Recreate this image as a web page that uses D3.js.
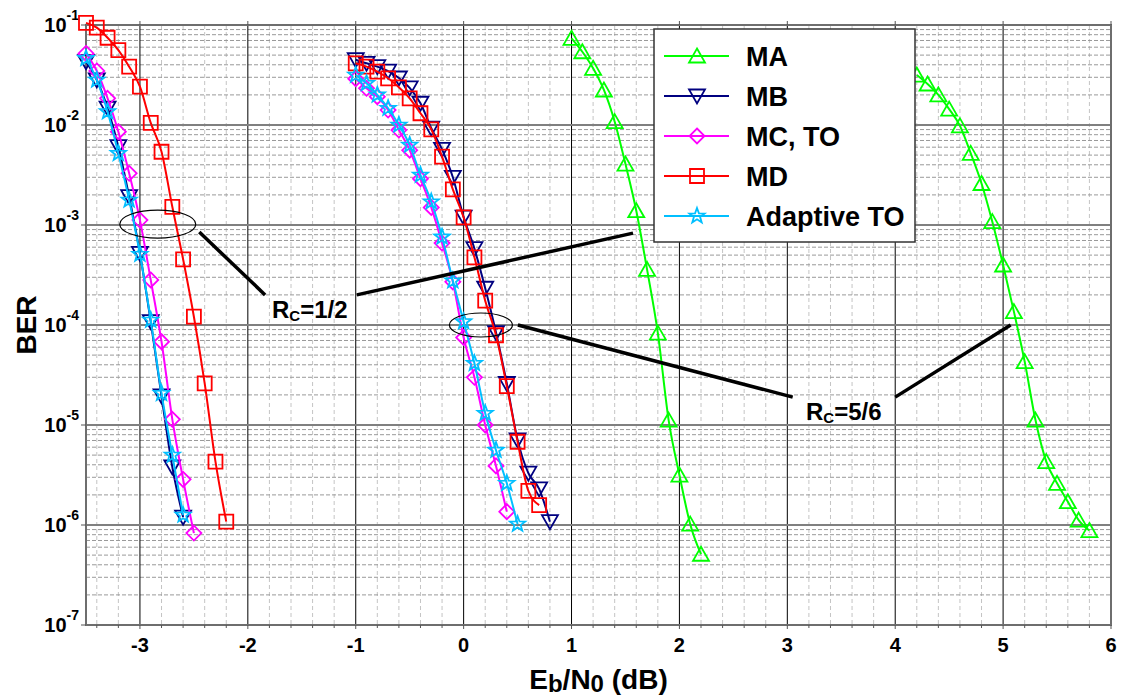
<!DOCTYPE html>
<html><head><meta charset="utf-8">
<script src="https://cdn.jsdelivr.net/npm/d3@7"></script>
<style>
body{margin:0;background:#fff}
text{font-family:Arial,"Liberation Sans",sans-serif;font-weight:bold;fill:#000}
</style>
</head><body>
<svg id="c" width="1126" height="696"></svg>
<script>
// ---------- data ----------
const seriesNames = ["MA", "MB", "MC, TO", "MD", "Adaptive TO"];
const xTickValues = [-3, -2, -1, 0, 1, 2, 3, 4, 5, 6];
const yTickExponents = [-1, -2, -3, -4, -5, -6, -7];

// MA (two curves: Rc=1/2 and Rc=5/6)
const maHalfX = [1.0, 1.1, 1.2, 1.3, 1.4, 1.5, 1.6, 1.7, 1.8, 1.9, 2.0, 2.1, 2.2];
const maHalfY = [0.0736, 0.054, 0.0369, 0.0224, 0.0108, 0.00407, 0.00139, 3.6e-4, 8.3e-5, 1.12e-5, 3.16e-6, 1.02e-6, 5.1e-7];
const maFiveX = [4.2, 4.3, 4.4, 4.5, 4.6, 4.7, 4.8, 4.9, 5.0, 5.1, 5.2, 5.3, 5.4, 5.5, 5.6, 5.7, 5.8];
const maFiveY = [0.0316, 0.0257, 0.02, 0.0144, 0.0098, 0.0052, 0.0026, 0.00108, 3.98e-4, 1.36e-4, 4.3e-5, 1.12e-5, 4.3e-6, 2.61e-6, 1.71e-6, 1.12e-6, 8.8e-7];

// MB
const mbHalfX = [-3.5, -3.4, -3.3, -3.2, -3.1, -3.0, -2.9, -2.8, -2.7, -2.6];
const mbHalfY = [0.043, 0.0282, 0.0147, 0.00607, 0.00192, 5.2e-4, 1.08e-4, 1.95e-5, 3.8e-6, 1.2e-6];
const mbFiveX = [-1.0, -0.9, -0.8, -0.7, -0.6, -0.5, -0.4, -0.3, -0.2, -0.1, 0.0, 0.1, 0.2, 0.3, 0.4, 0.5, 0.6, 0.7, 0.8];
const mbFiveY = [0.045, 0.0414, 0.0383, 0.0345, 0.0295, 0.0235, 0.0165, 0.0093, 0.0057, 0.003, 0.0012, 5.8e-4, 2.33e-4, 8.4e-5, 2.6e-5, 7.1e-6, 3.3e-6, 2.3e-6, 1.08e-6];

// MC, TO
const mcHalfX = [-3.5, -3.4, -3.3, -3.2, -3.1, -3.0, -2.9, -2.8, -2.7, -2.6, -2.5];
const mcHalfY = [0.052, 0.0347, 0.0185, 0.00857, 0.00329, 0.00112, 2.82e-4, 6.8e-5, 1.14e-5, 2.86e-6, 8.3e-7];
const mcFiveX = [-1.0, -0.9, -0.8, -0.7, -0.6, -0.5, -0.4, -0.3, -0.2, -0.1, 0.0, 0.1, 0.2, 0.3, 0.4];
const mcFiveY = [0.029, 0.0233, 0.0192, 0.0141, 0.0089, 0.0056, 0.0029, 0.0015, 6.6e-4, 2.7e-4, 7.5e-5, 3.0e-5, 1.0e-5, 3.9e-6, 1.36e-6];

// MD
const mdHalfX = [-3.5, -3.4, -3.3, -3.2, -3.1, -3.0, -2.9, -2.8, -2.7, -2.6, -2.5, -2.4, -2.3, -2.2];
const mdHalfY = [0.105, 0.094, 0.0746, 0.056, 0.0383, 0.0242, 0.0105, 0.0054, 0.00152, 4.54e-4, 1.21e-4, 2.61e-5, 4.3e-6, 1.08e-6];
const mdFiveX = [-1.0, -0.9, -0.8, -0.7, -0.6, -0.5, -0.4, -0.3, -0.2, -0.1, 0.0, 0.1, 0.2, 0.3, 0.4, 0.5, 0.6, 0.7];
const mdFiveY = [0.0414, 0.0383, 0.0341, 0.0293, 0.0238, 0.0185, 0.0131, 0.00906, 0.00482, 0.00227, 0.00119, 4.75e-4, 1.75e-4, 7.9e-5, 2.45e-5, 6.8e-6, 2.19e-6, 1.58e-6];

// Adaptive TO
const atHalfX = [-3.5, -3.4, -3.3, -3.2, -3.1, -3.0, -2.9, -2.8, -2.7, -2.6];
const atHalfY = [0.0464, 0.0282, 0.0136, 0.0052, 0.00178, 5.1e-4, 1.12e-4, 2.07e-5, 5.0e-6, 1.26e-6];
const atFiveX = [-1.0, -0.9, -0.8, -0.7, -0.6, -0.5, -0.4, -0.3, -0.2, -0.1, 0.0, 0.1, 0.2, 0.3, 0.4, 0.5];
const atFiveY = [0.0316, 0.0261, 0.02, 0.0147, 0.01, 0.0063, 0.00316, 0.00171, 7.6e-4, 2.77e-4, 1.08e-4, 4.14e-5, 1.31e-5, 5.6e-6, 2.61e-6, 1.02e-6];

// annotation labels
const rateLabels = ["1/2", "5/6"];

// ---------- styles ----------
const colors = ["#00ff00", "#000080", "#ff00ff", "#ff0000", "#00bfff"];
const shapes = ["triUp", "triDown", "diamond", "square", "star"];

const curves = [
  {s: 0, xs: maHalfX, ys: maHalfY}, {s: 0, xs: maFiveX, ys: maFiveY},
  {s: 1, xs: mbHalfX, ys: mbHalfY}, {s: 1, xs: mbFiveX, ys: mbFiveY},
  {s: 2, xs: mcHalfX, ys: mcHalfY}, {s: 2, xs: mcFiveX, ys: mcFiveY},
  {s: 3, xs: mdHalfX, ys: mdHalfY}, {s: 3, xs: mdFiveX, ys: mdFiveY},
  {s: 4, xs: atHalfX, ys: atHalfY}, {s: 4, xs: atFiveX, ys: atFiveY}
];

function markerPath(shape) {
  switch (shape) {
    case "square": return "M-7,-7H7V7H-7Z";
    case "triUp": return "M0,-7.5L8,6.5L-8,6.5Z";
    case "triDown": return "M-8,-6.5H8L0,7.5Z";
    case "diamond": return "M0,-7.5L7.5,0L0,7.5L-7.5,0Z";
    case "star": {
      let p = "";
      for (let i = 0; i < 10; i++) {
        const r = i % 2 === 0 ? 8 : 3.3;
        const a = -Math.PI / 2 + i * Math.PI / 5;
        p += (i ? "L" : "M") + (r * Math.cos(a)).toFixed(2) + "," + (r * Math.sin(a)).toFixed(2);
      }
      return p + "Z";
    }
  }
}

// ---------- chart ----------
const svg = d3.select("#c");
svg.append("rect").attr("width", 1126).attr("height", 696).attr("fill", "#fff");

const x = d3.scaleLinear().domain([-3.5, 6]).range([86, 1111]);
const y = d3.scaleLog().domain([1e-7, 1e-1]).range([625, 25]);
const [x0, x1] = x.range();
const [yb, yt] = y.range();

const grid = svg.append("g");
// minor vertical
const minorX = d3.range(-34, 60, 2).map(v => v / 10).filter(v => Math.abs(v - Math.round(v)) > 1e-6);
grid.selectAll(".mvx").data(minorX).join("line")
  .attr("x1", d => x(d)).attr("x2", d => x(d)).attr("y1", yt).attr("y2", yb)
  .attr("stroke", "#c4c4c4").attr("stroke-width", 1).attr("stroke-dasharray", "4,3");
// minor horizontal
const minorY = [];
yTickExponents.slice(1).forEach(e => { for (let k = 2; k <= 9; k++) minorY.push(k * Math.pow(10, e)); });
grid.selectAll(".mhy").data(minorY).join("line")
  .attr("x1", x0).attr("x2", x1).attr("y1", d => y(d)).attr("y2", d => y(d))
  .attr("stroke", "#999").attr("stroke-width", 1).attr("stroke-dasharray", "4,2");
// major vertical
grid.selectAll(".Mx").data(xTickValues).join("line")
  .attr("x1", d => x(d)).attr("x2", d => x(d)).attr("y1", yt).attr("y2", yb)
  .attr("stroke", "#000").attr("stroke-width", 1);
// major horizontal
grid.selectAll(".My").data(yTickExponents).join("line")
  .attr("x1", x0).attr("x2", x1).attr("y1", d => y(Math.pow(10, d))).attr("y2", d => y(Math.pow(10, d)))
  .attr("stroke", "#808080").attr("stroke-width", 2);

// frame
svg.append("rect").attr("x", x0).attr("y", yt).attr("width", x1 - x0).attr("height", yb - yt)
  .attr("fill", "none").attr("stroke", "#6e6e6e").attr("stroke-width", 2);

// ticks
const tk = svg.append("g").attr("stroke", "#555").attr("stroke-width", 1);
tk.selectAll(".bt").data(minorX).join("line")
  .attr("x1", d => x(d)).attr("x2", d => x(d)).attr("y1", yb).attr("y2", yb + 3);
tk.selectAll(".bM").data(xTickValues).join("line")
  .attr("x1", d => x(d)).attr("x2", d => x(d)).attr("y1", yb).attr("y2", yb + 4);
tk.selectAll(".tM").data(xTickValues).join("line")
  .attr("x1", d => x(d)).attr("x2", d => x(d)).attr("y1", yt).attr("y2", yt - 4);
tk.selectAll(".lM").data(yTickExponents).join("line")
  .attr("x1", x0 - 5).attr("x2", x0).attr("y1", d => y(Math.pow(10, d))).attr("y2", d => y(Math.pow(10, d)));

// x tick labels
svg.append("g").selectAll("text").data(xTickValues).join("text")
  .attr("x", d => x(d)).attr("y", yb + 27).attr("text-anchor", "middle")
  .attr("font-size", 20).text(d => String(d));

// y tick labels
const yl = svg.append("g").selectAll("text").data(yTickExponents).join("text")
  .attr("x", 79).attr("y", d => y(Math.pow(10, d)) + 7).attr("text-anchor", "end");
yl.append("tspan").attr("font-size", 20).text("10");
yl.append("tspan").attr("font-size", 14).attr("dy", -12).text(d => String(d));

// axis titles
const xt = svg.append("text").attr("x", (x0 + x1) / 2).attr("y", 689).attr("text-anchor", "middle").attr("font-size", 28);
xt.append("tspan").text("E");
xt.append("tspan").attr("font-size", 24).attr("dy", 3).text("b");
xt.append("tspan").attr("dy", -3).text("/N");
xt.append("tspan").attr("font-size", 24).attr("dy", 3).text("0");
xt.append("tspan").attr("dy", -3).text(" (dB)");

svg.append("text").attr("transform", `translate(36,${(yt + yb) / 2}) rotate(-90)`)
  .attr("text-anchor", "middle").attr("font-size", 28).text("BER");

// curves
const line = d3.line().x(d => x(d[0])).y(d => y(d[1])).curve(d3.curveMonotoneX);
const plot = svg.append("g");
curves.forEach(c => {
  const pts = c.xs.map((v, i) => [v, c.ys[i]]);
  const g = plot.append("g");
  g.append("path").attr("d", line(pts)).attr("fill", "none")
    .attr("stroke", colors[c.s]).attr("stroke-width", 2);
  g.selectAll("path.m").data(pts).join("path").attr("class", "m")
    .attr("d", markerPath(shapes[c.s]))
    .attr("transform", d => `translate(${x(d[0])},${y(d[1])})`)
    .attr("fill", "none").attr("stroke", colors[c.s]).attr("stroke-width", 1.8);
});

// annotations
const ann = svg.append("g");
ann.append("ellipse").attr("cx", x(-2.835)).attr("cy", y(1.02e-3)).attr("rx", 38).attr("ry", 14)
  .attr("fill", "none").attr("stroke", "#000").attr("stroke-width", 1.2);
ann.append("ellipse").attr("cx", x(0.16)).attr("cy", y(1.0e-4)).attr("rx", 31.5).attr("ry", 12)
  .attr("fill", "none").attr("stroke", "#000").attr("stroke-width", 1.2);
const annLines = [
  [[-2.45, 8.5e-4], [-1.84, 2.0e-4]],
  [[-0.99, 2.0e-4], [1.57, 8.3e-4]],
  [[0.503, 1.0e-4], [3.05, 1.9e-5]],
  [[4.0, 1.9e-5], [5.07, 1.0e-4]]
];
annLines.forEach(l => ann.append("line")
  .attr("x1", x(l[0][0])).attr("y1", y(l[0][1])).attr("x2", x(l[1][0])).attr("y2", y(l[1][1]))
  .attr("stroke", "#000").attr("stroke-width", 3.5));

const rl = [[272, 318], [806, 420]];
rateLabels.forEach((r, i) => {
  const t = ann.append("text").attr("x", rl[i][0]).attr("y", rl[i][1]).attr("font-size", 24);
  t.append("tspan").text("R");
  t.append("tspan").attr("font-size", 15).attr("dy", 3).text("C");
  t.append("tspan").attr("dy", -3).text("=" + r);
});

// legend
const lg = svg.append("g");
lg.append("rect").attr("x", 654).attr("y", 29).attr("width", 261).attr("height", 213)
  .attr("fill", "#fff").attr("stroke", "#333").attr("stroke-width", 1.5);
seriesNames.forEach((n, i) => {
  const cy = 56 + i * 40;
  lg.append("line").attr("x1", 664).attr("x2", 729).attr("y1", cy).attr("y2", cy)
    .attr("stroke", colors[i]).attr("stroke-width", 2);
  lg.append("path").attr("d", markerPath(shapes[i])).attr("transform", `translate(697,${cy})`)
    .attr("fill", "none").attr("stroke", colors[i]).attr("stroke-width", 1.8);
  lg.append("text").attr("x", 746).attr("y", cy + 10).attr("font-size", 27).text(n);
});
</script>
</body></html>
